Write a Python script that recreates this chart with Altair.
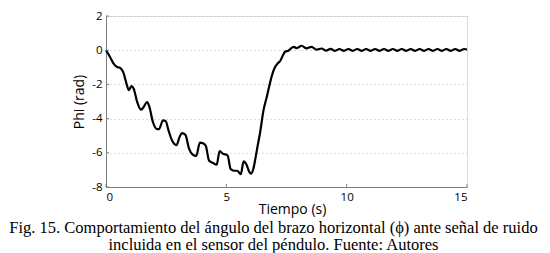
import altair as alt
import pandas as pd

# Time (s) and Phi (rad)
t = [0.00, 0.15, 0.30, 0.45, 0.60, 0.72, 0.85, 0.95, 1.06, 1.15, 1.30, 1.45, 1.55, 1.71,
     1.80, 1.95, 2.10, 2.20, 2.37, 2.48, 2.60, 2.75, 2.93, 3.05, 3.15, 3.30, 3.45, 3.60,
     3.75, 3.90, 4.05, 4.15, 4.28, 4.45, 4.60, 4.72, 4.85, 5.05, 5.18, 5.32, 5.45, 5.60,
     5.72, 5.84, 5.95, 6.03, 6.12, 6.20, 6.30, 6.40, 6.54, 6.68, 6.80, 6.90, 7.02, 7.15,
     7.25, 7.35, 7.45, 7.58, 7.70, 7.80, 7.93, 8.13, 8.33, 8.54, 8.75,
     8.96, 9.15, 9.33, 9.52, 9.70, 9.89, 10.07, 10.26, 10.44, 10.63, 10.81, 11.00,
     11.18, 11.37, 11.55, 11.74, 11.92, 12.11, 12.29, 12.48, 12.66, 12.85, 13.03,
     13.22, 13.40, 13.59, 13.77, 13.96, 14.14, 14.33, 14.51, 14.70, 14.88, 15.00]
phi = [0.00, -0.35, -0.75, -0.97, -1.05, -1.30, -1.95, -2.33, -2.10, -2.25, -3.05, -3.48,
       -3.35, -3.03, -3.30, -4.20, -4.60, -4.62, -4.10, -4.15, -4.70, -5.30, -5.55, -5.10,
       -4.85, -4.95, -5.75, -6.10, -6.18, -5.40, -5.45, -5.60, -6.45, -6.60, -6.70, -5.90,
       -6.05, -6.15, -6.95, -7.05, -7.05, -7.25, -6.50, -6.70, -7.10, -7.22, -6.95, -6.40,
       -5.60, -4.84, -3.55, -2.73, -2.00, -1.45, -1.00, -0.75, -0.60, -0.30, -0.08, -0.03,
       0.12, 0.20, 0.12, 0.26, 0.11, 0.20, 0.03,
       0.10, -0.03, 0.08, -0.04, 0.07, -0.04, 0.07, -0.04, 0.07, -0.04, 0.07, -0.04,
       0.07, -0.04, 0.07, -0.04, 0.07, -0.04, 0.07, -0.04, 0.07, -0.04, 0.07,
       -0.04, 0.07, -0.04, 0.07, -0.04, 0.07, -0.04, 0.07, -0.04, 0.07, 0.04]

x_ticks = [0, 5, 10, 15]
y_ticks = [-8, -6, -4, -2, 0, 2]
caption = ["Fig. 15. Comportamiento del ángulo del brazo horizontal (\u03d5) ante señal de ruido",
           "incluida en el sensor del péndulo. Fuente: Autores"]

W, H = 361, 171
SANS = "Open Sans"
AXC = "#7f7f7f"

df = pd.DataFrame({"t": t, "phi": phi})
xs = alt.Scale(domain=[0, 15], nice=False, zero=False)
ys = alt.Scale(domain=[-8, 2], nice=False, zero=False)

line = alt.Chart(df).mark_line(color="black", strokeWidth=2.2, interpolate="monotone").encode(
    x=alt.X("t:Q", scale=xs, axis=alt.Axis(
        values=x_ticks, tickCount=len(x_ticks), title="Tiempo (s)", ticks=False, grid=False,
        labelExpr="datum.value + ''", labelFont=SANS, labelFontSize=11.5,
        labelColor="black", labelPadding=4, domainColor=AXC, labelOverlap=False,
        titleFont=SANS, titleFontSize=14, titleFontWeight="normal", titleColor="black",
        titlePadding=0, titleX=186)),
    y=alt.Y("phi:Q", scale=ys, axis=alt.Axis(
        values=y_ticks, tickCount=len(y_ticks), title="Phi (rad)", ticks=False, grid=True,
        gridDash=[1, 3], gridColor="#bdbdbd", gridWidth=1, labelOverlap=False,
        labelExpr="datum.value + ''", labelFont=SANS, labelFontSize=11.5,
        labelColor="black", labelPadding=4, domainColor=AXC,
        titleFont=SANS, titleFontSize=14, titleFontWeight="normal", titleColor="black",
        titlePadding=5)),
)

xt = alt.Chart(pd.DataFrame({"v": x_ticks})).mark_rule(color=AXC, strokeWidth=1).encode(
    x=alt.X("v:Q", scale=xs), y=alt.value(H), y2=alt.value(H - 3))
yt = alt.Chart(pd.DataFrame({"v": y_ticks})).mark_rule(color=AXC, strokeWidth=1).encode(
    y=alt.Y("v:Q", scale=ys), x=alt.value(0), x2=alt.value(3))

chart = alt.layer(line, xt, yt).properties(
    width=W, height=H,
    autosize=alt.AutoSizeParams(type="none"),
    padding={"left": 98, "top": 8, "right": 73, "bottom": 66},
    title=alt.TitleParams(text=caption, orient="bottom", anchor="middle",
                          font="Liberation Serif", fontSize=16.5, fontWeight="normal",
                          color="black", lineHeight=17.5, offset=3, dx=-13),
).configure_view(stroke=None).configure(background="white")

chart.save("out.html", embed_options={"renderer": "svg", "actions": False})
